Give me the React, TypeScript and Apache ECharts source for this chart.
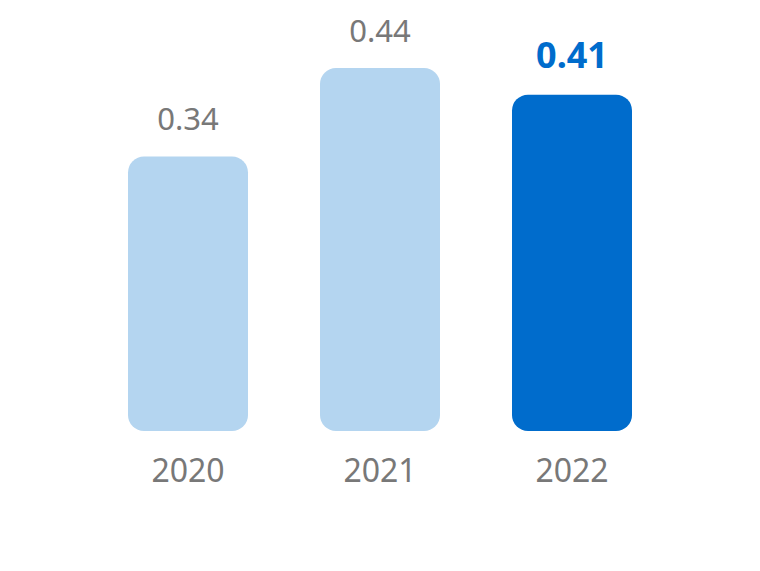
import React, { useEffect, useRef } from "react";
import * as echarts from "echarts";

const categories = ["2020", "2021", "2022"];
const values = [0.34, 0.44, 0.41];
const highlightIndex = 2;

export default function App() {
  const ref = useRef<HTMLDivElement>(null);
  useEffect(() => {
    if (!ref.current) return;
    const chart = echarts.init(ref.current, undefined, { renderer: "svg" });
    const font = "Noto Sans";
    chart.setOption({
      animation: false,
      grid: { left: 92, right: 92, top: 15, bottom: 140 },
      xAxis: {
        type: "category",
        data: categories,
        axisLine: { show: false },
        axisTick: { show: false },
        axisLabel: { color: "#787878", fontSize: 32, fontFamily: font, margin: 22 },
      },
      yAxis: { type: "value", min: 0.03, max: 0.5, show: false, splitLine: { show: false } },
      series: [
        {
          type: "bar",
          barWidth: 120,
          data: values.map((v, i) => ({
            value: v,
            itemStyle: {
              color: i === highlightIndex ? "#006ccc" : "#b4d5f0",
              borderRadius: 16,
            },
            label:
              i === highlightIndex
                ? { color: "#006ccc", fontWeight: "bold", fontSize: 36, distance: 22 }
                : { color: "#787878", fontSize: 31, distance: 23 },
          })),
          label: {
            show: true,
            position: "top",
            fontFamily: font,
            formatter: (p: any) => p.value.toFixed(2),
          },
        },
      ],
    });
    return () => chart.dispose();
  }, []);
  return <div ref={ref} style={{ width: 760, height: 571, position: "absolute", left: 0, top: 0 }} />;
}
